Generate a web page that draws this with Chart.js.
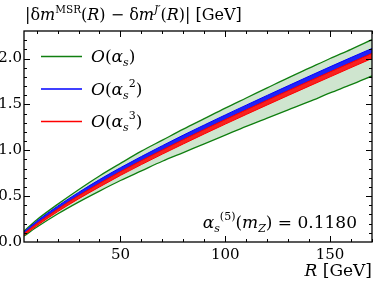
<!DOCTYPE html>
<html>
<head>
<meta charset="utf-8">
<script src="https://cdn.jsdelivr.net/npm/chart.js@4.4.1/dist/chart.umd.min.js"></script>
<style>
  html, body { margin: 0; padding: 0; background: #fff; }
  #box { width: 374px; height: 283px; }
</style>
</head>
<body>
<div id="box"><canvas id="grafico"></canvas></div>
<script>
// ===== dados =====
const rValues   = [4, 10, 20, 30, 40, 50, 60, 70, 80, 90, 100, 110, 120, 130, 140, 150, 160, 170];
const nloUpper  = [0.12, 0.24, 0.41, 0.57, 0.72, 0.857, 0.99, 1.11, 1.23, 1.345, 1.46, 1.57, 1.68, 1.79, 1.895, 2.0, 2.10, 2.205];
const nloLower  = [0.065, 0.16, 0.305, 0.435, 0.555, 0.67, 0.775, 0.88, 0.975, 1.07, 1.165, 1.26, 1.35, 1.44, 1.53, 1.625, 1.715, 1.81];
const nnloUpper = [0.11, 0.225, 0.39, 0.54, 0.68, 0.81, 0.932, 1.05, 1.165, 1.276, 1.385, 1.492, 1.598, 1.703, 1.807, 1.91, 2.011, 2.11];
const nnloLower = [0.093, 0.198, 0.358, 0.505, 0.640, 0.768, 0.888, 1.004, 1.117, 1.227, 1.335, 1.441, 1.546, 1.650, 1.753, 1.855, 1.956, 2.056];
const n3loUpper = [0.093, 0.198, 0.358, 0.505, 0.640, 0.768, 0.888, 1.004, 1.117, 1.227, 1.335, 1.441, 1.546, 1.650, 1.753, 1.855, 1.956, 2.056];
const n3loLower = [0.073, 0.175, 0.33, 0.47, 0.60, 0.726, 0.844, 0.958, 1.069, 1.178, 1.285, 1.39, 1.494, 1.597, 1.699, 1.80, 1.901, 2.001];
const xTicks = [50, 100, 150];
const yTicks = [0.0, 0.5, 1.0, 1.5, 2.0];

const SERIF = '"DejaVu Serif", "Liberation Serif", serif';
Chart.defaults.font.family = SERIF;
Chart.defaults.color = '#000';

const GREEN = '#107f10';
const BLUE = '#0000ff';
const RED = '#ff0000';

function pts(ys) {
  return rValues.map((r, i) => ({ x: r, y: ys[i] }));
}

function linha(label, ys, color, width, fill, bg, order) {
  return {
    label: label,
    data: pts(ys),
    borderColor: color,
    borderWidth: width,
    backgroundColor: bg || 'transparent',
    fill: fill,
    pointRadius: 0,
    cubicInterpolationMode: 'monotone',
    order: order
  };
}

// texto com sub/sobrescritos
function drawRich(ctx, parts, x, y, align) {
  const font = p => (p.it ? 'italic ' : '') + p.s + 'px ' + SERIF;
  let total = 0;
  parts.forEach(p => { ctx.font = font(p); total += ctx.measureText(p.t).width; });
  let cx = align === 'right' ? x - total : x;
  ctx.textAlign = 'left';
  ctx.textBaseline = 'alphabetic';
  parts.forEach(p => {
    ctx.font = font(p);
    ctx.fillText(p.t, cx, y + (p.dy || 0));
    cx += ctx.measureText(p.t).width;
  });
}

const decoracao = {
  id: 'decoracao',
  afterDraw(chart) {
    const ctx = chart.ctx;
    const a = chart.chartArea;
    const xs = chart.scales.x;
    const ys = chart.scales.y;
    ctx.save();
    ctx.fillStyle = '#000';
    ctx.strokeStyle = '#000';

    // moldura
    ctx.lineWidth = 1.3;
    ctx.strokeRect(a.left, a.top, a.right - a.left, a.bottom - a.top);

    // ticks internos nos quatro lados
    ctx.lineWidth = 1;
    ctx.beginPath();
    for (let v = 10; v <= 170; v += 10) {
      const px = Math.round(xs.getPixelForValue(v)) + 0.5;
      const len = v % 50 === 0 ? 6 : 3;
      ctx.moveTo(px, a.bottom); ctx.lineTo(px, a.bottom - len);
      ctx.moveTo(px, a.top); ctx.lineTo(px, a.top + len);
    }
    for (let k = 1; k <= 22; k++) {
      const v = k / 10;
      const py = Math.round(ys.getPixelForValue(v)) + 0.5;
      const len = k % 5 === 0 ? 6 : 3;
      ctx.moveTo(a.left, py); ctx.lineTo(a.left + len, py);
      ctx.moveTo(a.right, py); ctx.lineTo(a.right - len, py);
    }
    ctx.stroke();

    // titulo do eixo y
    drawRich(ctx, [
      { t: '|δ', s: 16 }, { t: 'm', s: 16, it: true },
      { t: 'MSR', s: 10.5, dy: -7 },
      { t: '(', s: 16 }, { t: 'R', s: 16, it: true }, { t: ') − δ', s: 16 },
      { t: 'm', s: 16, it: true }, { t: 'J′', s: 10.5, it: true, dy: -7 },
      { t: '(', s: 16 }, { t: 'R', s: 16, it: true }, { t: ')| [GeV]', s: 16 }
    ], 25, 20, 'left');

    // titulo do eixo x
    drawRich(ctx, [
      { t: 'R', s: 17, it: true }, { t: ' [GeV]', s: 17 }
    ], 372, 276, 'right');

    // anotacao
    drawRich(ctx, [
      { t: 'α', s: 17, it: true }, { t: 's', s: 11, it: true, dy: 4 },
      { t: '(5)', s: 11, dy: -8 },
      { t: '(', s: 17 }, { t: 'm', s: 17, it: true }, { t: 'Z', s: 11, it: true, dy: 4 },
      { t: ') = 0.1180', s: 17 }
    ], 357, 228, 'right');

    // legenda
    const itens = [
      { c: GREEN, sup: '' },
      { c: BLUE, sup: '2' },
      { c: RED, sup: '3' }
    ];
    itens.forEach((it, i) => {
      const y = 56 + i * 32.5;
      ctx.strokeStyle = it.c;
      ctx.lineWidth = 1.5;
      ctx.beginPath();
      ctx.moveTo(41, y + 0.5); ctx.lineTo(82, y + 0.5);
      ctx.stroke();
      const parts = [
        { t: 'O', s: 17, it: true }, { t: '(', s: 17 },
        { t: 'α', s: 17, it: true }, { t: 's', s: 11, it: true, dy: 4 }
      ];
      if (it.sup) {
        parts.push({ t: it.sup, s: 11, dy: -8 });
      }
      parts.push({ t: ')', s: 17 });
      drawRich(ctx, parts, 91, y + 6, 'left');
    });
    ctx.restore();
  }
};

new Chart(document.getElementById('grafico'), {
  type: 'line',
  data: {
    datasets: [
      linha('O(as) sup', nloUpper, GREEN, 1.3, '+1', 'rgba(16,127,16,0.2)', 3),
      linha('O(as) inf', nloLower, GREEN, 1.3, false, null, 3),
      linha('O(as2) sup', nnloUpper, BLUE, 1, '+1', 'rgba(0,0,255,0.85)', 2),
      linha('O(as2) inf', nnloLower, BLUE, 1, false, null, 2),
      linha('O(as3) sup', n3loUpper, RED, 1, '+1', 'rgba(255,0,0,0.85)', 1),
      linha('O(as3) inf', n3loLower, RED, 1, false, null, 1)
    ]
  },
  options: {
    responsive: true,
    maintainAspectRatio: false,
    animation: false,
    layout: { padding: { top: 31, right: 2, left: 0, bottom: 0 } },
    plugins: { legend: { display: false }, tooltip: { enabled: false } },
    scales: {
      x: {
        type: 'linear',
        min: 4,
        max: 170,
        grid: { display: false, drawTicks: false },
        border: { display: false },
        afterBuildTicks: s => { s.ticks = xTicks.map(v => ({ value: v })); },
        afterFit: s => { s.height = 41; },
        ticks: { font: { size: 15 }, padding: 4, maxRotation: 0, color: '#000' }
      },
      y: {
        min: 0,
        max: 2.3,
        grid: { display: false, drawTicks: false },
        border: { display: false },
        afterBuildTicks: s => { s.ticks = yTicks.map(v => ({ value: v })); },
        afterFit: s => { s.width = 24; },
        ticks: {
          font: { size: 15 },
          padding: 2,
          color: '#000',
          callback: v => Number(v).toFixed(1)
        }
      }
    }
  },
  plugins: [decoracao]
});
</script>
</body>
</html>
